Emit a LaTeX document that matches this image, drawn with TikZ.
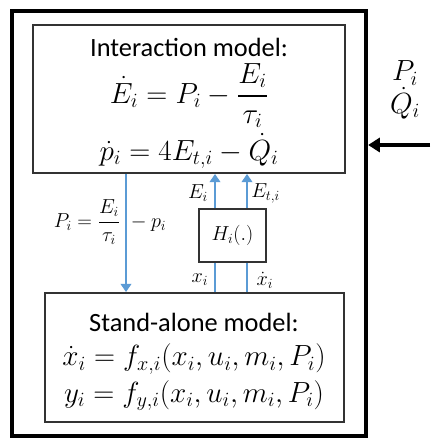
\documentclass[tikz,border=0pt]{standalone}
\usepackage[no-math]{fontspec}
\setmainfont{Carlito}
\usepackage{amsmath}
\usetikzlibrary{arrows.meta}
\definecolor{flowblue}{HTML}{5B9BD5}
\definecolor{boxedge}{HTML}{333333}

\begin{document}
\begin{tikzpicture}[
    model/.style={draw=boxedge, line width=1.6pt, inner sep=0pt},
    txt/.style={inner sep=0pt, font=\fontsize{22.5}{27}\selectfont},
    eq/.style={inner sep=0pt, font=\fontsize{24}{29}\selectfont},
    sig/.style={line width=2.5pt, color=flowblue},
    arr/.style={sig, -{Triangle[length=7pt,width=9pt]}},
    lbl/.style={inner sep=0pt, font=\fontsize{16.5}{20}\selectfont}
  ]
    \useasboundingbox (0,0) rectangle (12.9,13.17);
    \node[draw, line width=3.6pt, minimum width=10.62cm, minimum height=12.75cm] (outer) at (5.67,6.465) {};

    % interaction part
    \node[model, minimum width=9.36cm, minimum height=4.44cm] (inter) at (5.67,10.2) {};
    \node[txt] (intertitle) at (5.67,11.76) {Interaction model:};
    \node[eq]  (energy) at (5.67,10.3) {$\dot{E}_i = P_i - \dfrac{E_i}{\tau_i}$};
    \node[eq]  (moment) at (5.67,8.64) {$\dot{p}_i = 4E_{t,i} - \dot{Q}_i$};

    % stand-alone part
    \node[model, minimum width=8.97cm, minimum height=3.87cm] (alone) at (5.835,2.445) {};
    \node[txt] (alonetitle) at (5.82,3.5) {Stand-alone model:};
    \node[eq]  (state)  at (5.82,2.4) {$\dot{x}_i = f_{x,i}(x_i, u_i, m_i, P_i)$};
    \node[eq]  (output) at (5.82,1.3) {$y_i = f_{y,i}(x_i, u_i, m_i, P_i)$};

    % map
    \node[model, minimum width=2.01cm, minimum height=1.59cm, font=\fontsize{17}{20}\selectfont] (hmap) at (6.975,6.105) {$H_i(.)$};

    \coordinate (pcol)  at (3.78,0);
    \coordinate (ecol)  at (6.45,0);
    \coordinate (etcol) at (7.41,0);
    \draw[arr] (inter.south -| pcol) -- (alone.north -| pcol);
    \draw[arr] (hmap.north -| ecol) -- (inter.south -| ecol);
    \draw[arr] (hmap.north -| etcol) -- (inter.south -| etcol);
    \draw[sig] (alone.north -| ecol) -- (hmap.south -| ecol);
    \draw[sig] (alone.north -| etcol) -- (hmap.south -| etcol);

    \node[lbl] (pdef) at (3.3,6.5) {$P_i = \dfrac{E_i}{\tau_i}\hspace{5pt}- p_i$};
    \node[lbl] (elbl)  at (5.94,7.38) {$E_i$};
    \node[lbl] (etlbl) at (7.97,7.38) {$E_{t,i}$};
    \node[lbl] (xlbl)  at (6.0,4.77) {$x_i$};
    \node[lbl] (xdlbl) at (7.95,4.77) {$\dot{x}_i$};

    % external inputs
    \node[inner sep=0pt, font=\fontsize{24}{29}\selectfont] (pin) at (12.15,10.98) {$P_i$};
    \node[inner sep=0pt, font=\fontsize{24}{29}\selectfont] (qin) at (12.15,10.08) {$\dot{Q}_i$};
    \coordinate (ext) at (12.9,8.82);
    \draw[line width=2.6pt, -{Triangle[length=10pt,width=12pt]}] (ext) -- (outer.east |- ext);
  \end{tikzpicture}
\end{document}
